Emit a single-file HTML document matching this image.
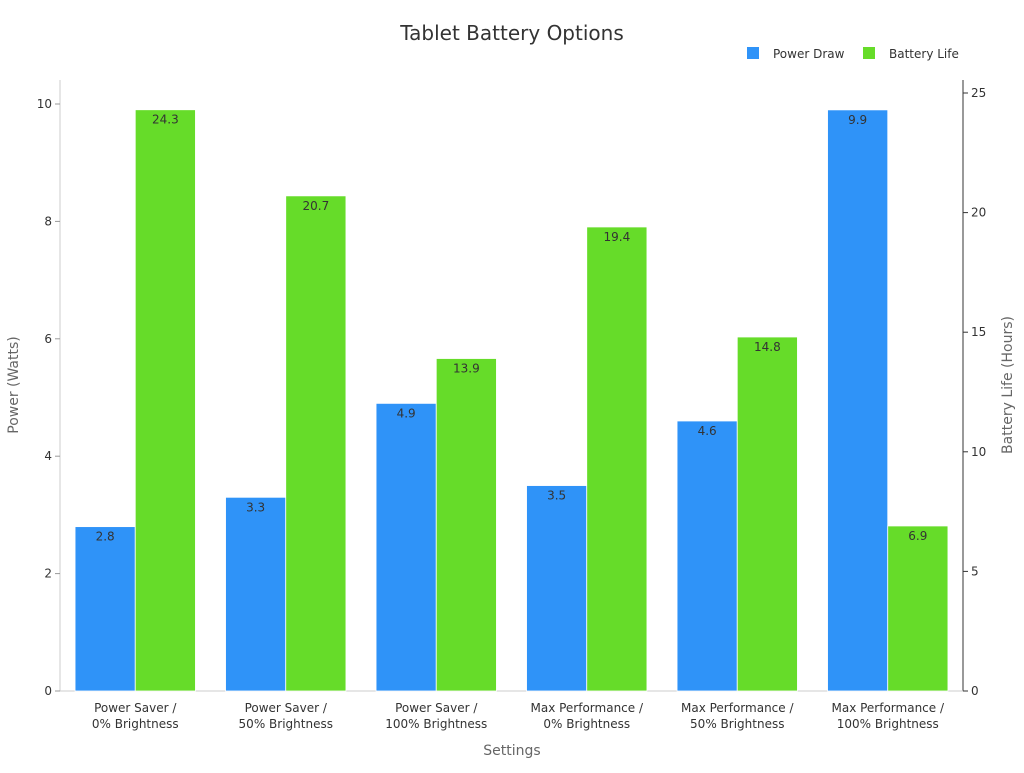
<!DOCTYPE html>
<html><head><meta charset="utf-8"><style>
html,body{margin:0;padding:0;background:#fff;}
svg text{font-family:"DejaVu Sans","Liberation Sans",sans-serif;}
</style></head><body>
<svg id="chart" width="1024" height="768" xmlns="http://www.w3.org/2000/svg">
<text x="512" y="40" text-anchor="middle" font-size="20" fill="#333">Tablet Battery Options</text>
<g>
<rect x="747" y="47" width="12" height="12" fill="#2f93f8"/>
<text x="773" y="58" font-size="12" fill="#333">Power Draw</text>
<rect x="863" y="47" width="12" height="12" fill="#66dc29"/>
<text x="889" y="58" font-size="12" fill="#333">Battery Life</text>
</g>
<g id="plot"></g>
<text x="512" y="755" text-anchor="middle" font-size="14" fill="#666">Settings</text>
<text transform="translate(18,385) rotate(-90)" text-anchor="middle" font-size="14" fill="#666">Power (Watts)</text>
<text transform="translate(1012,385) rotate(-90)" text-anchor="middle" font-size="14" fill="#666">Battery Life (Hours)</text>
</svg>
<script>
const categories = [["Power Saver /","0% Brightness"],["Power Saver /","50% Brightness"],["Power Saver /","100% Brightness"],["Max Performance /","0% Brightness"],["Max Performance /","50% Brightness"],["Max Performance /","100% Brightness"]];
const powerDraw = [2.8, 3.3, 4.9, 3.5, 4.6, 9.9];
const batteryLife = [24.3, 20.7, 13.9, 19.4, 14.8, 6.9];
const leftTicks = [0, 2, 4, 6, 8, 10];
const rightTicks = [0, 5, 10, 15, 20, 25];

const NS = "http://www.w3.org/2000/svg";
const g = document.getElementById('plot');
const X0 = 60, X1 = 963, Y0 = 691;
const yL = v => Y0 - v * 58.7;
const yR = v => Y0 - v * 23.92;
const band = (X1 - X0) / categories.length;
const xC = i => X0 + band * (i + 0.5);
function mk(tag, attrs, text) {
  const e = document.createElementNS(NS, tag);
  for (const k in attrs) e.setAttribute(k, attrs[k]);
  if (text !== undefined) e.textContent = text;
  g.appendChild(e);
  return e;
}
let a = mk('line', {x1: X0, y1: 80, x2: X0, y2: Y0, stroke: '#ccc'});


a = mk('line', {x1: X1, y1: 80, x2: X1, y2: Y0, stroke: '#333'});


a = mk('line', {x1: X0, y1: Y0, x2: X1, y2: Y0, stroke: '#ccc'});


leftTicks.forEach(t => {
  const y = yL(t);
  const l = mk('line', {x1: X0 - 5, y1: y, x2: X0, y2: y, stroke: '#999'});
  
  
  const tx = mk('text', {x: X0 - 8, y: y + 4, 'text-anchor': 'end', 'font-size': 12, fill: '#333'}, t);
  
  
});
rightTicks.forEach(t => {
  const y = yR(t);
  const l = mk('line', {x1: X1, y1: y, x2: X1 + 5, y2: y, stroke: '#333'});
  
  
  const tx = mk('text', {x: X1 + 8, y: y + 4, 'font-size': 12, fill: '#333'}, t);
  
  
});
const bw = band * 0.4;
categories.forEach((c, i) => {
  const cx = xC(i);
  const yp = yL(powerDraw[i]);
  const b1 = mk('rect', {x: cx - bw, y: yp, width: bw, height: Y0 - yp, fill: '#2f93f8', stroke: '#fff', 'stroke-width': 0.8});
  
  
  const t1 = mk('text', {x: cx - bw / 2, y: yp + 14, 'text-anchor': 'middle', 'font-size': 12, fill: '#333'}, powerDraw[i].toFixed(1));
  
  
  const yb = yR(batteryLife[i]);
  const b2 = mk('rect', {x: cx, y: yb, width: bw, height: Y0 - yb, fill: '#66dc29', stroke: '#fff', 'stroke-width': 0.8});
  
  
  const t2 = mk('text', {x: cx + bw / 2, y: yb + 14, 'text-anchor': 'middle', 'font-size': 12, fill: '#333'}, batteryLife[i].toFixed(1));
  
  
  const l1 = mk('text', {x: cx, y: 712, 'text-anchor': 'middle', 'font-size': 12, fill: '#333'}, c[0]);
  
  
  const l2 = mk('text', {x: cx, y: 728, 'text-anchor': 'middle', 'font-size': 12, fill: '#333'}, c[1]);
  
  
});
</script>
</body></html>
